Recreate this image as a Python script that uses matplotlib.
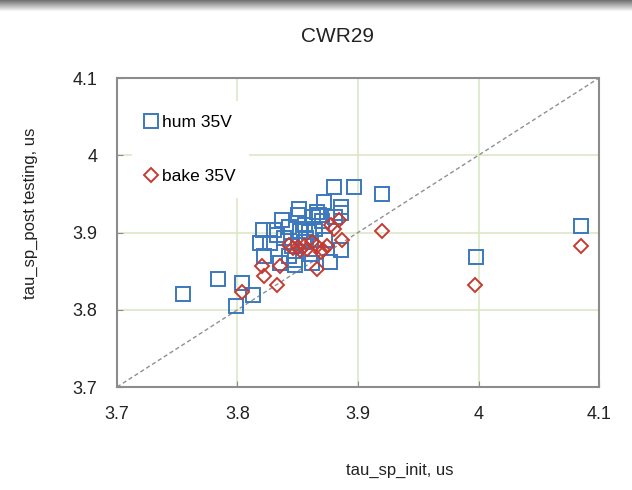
import matplotlib
matplotlib.use("Agg")
import matplotlib.pyplot as plt
import numpy as np

plt.rcParams['font.family'] = ['Liberation Sans', 'DejaVu Sans']

title = "CWR29"
x_label = "tau_sp_init, us"
y_label = "tau_sp_post testing, us"
ticks = [3.7, 3.8, 3.9, 4.0, 4.1]
tick_labels = ["3.7", "3.8", "3.9", "4", "4.1"]

hum_init = [3.755, 3.784, 3.804, 3.799, 3.813, 3.819, 3.827, 3.821, 3.830, 3.837,
            3.843, 3.851, 3.850, 3.856, 3.859, 3.857, 3.839, 3.866, 3.868, 3.863,
            3.872, 3.880, 3.897, 3.886, 3.886, 3.920, 3.873, 3.886, 3.822, 3.835,
            3.848, 3.848, 3.862, 3.877, 3.845, 3.998, 4.085, 3.881, 3.852, 3.864,
            3.833, 3.855, 3.870, 3.843, 3.860]
hum_post = [3.821, 3.840, 3.835, 3.805, 3.819, 3.886, 3.886, 3.903, 3.903, 3.916,
            3.907, 3.931, 3.923, 3.910, 3.901, 3.893, 3.893, 3.927, 3.923, 3.920,
            3.940, 3.959, 3.959, 3.925, 3.933, 3.950, 3.890, 3.877, 3.869, 3.860,
            3.864, 3.858, 3.860, 3.862, 3.882, 3.868, 3.908, 3.920, 3.902, 3.905,
            3.897, 3.888, 3.915, 3.870, 3.872]

bake_init = [3.804, 3.820, 3.822, 3.835, 3.833, 3.866, 3.843, 3.846, 3.852, 3.855,
             3.862, 3.866, 3.871, 3.874, 3.880, 3.884, 3.887, 3.920, 3.997, 4.085,
             3.850, 3.858, 3.878, 3.869]
bake_post = [3.823, 3.856, 3.844, 3.856, 3.832, 3.853, 3.884, 3.880, 3.877, 3.883,
             3.888, 3.882, 3.877, 3.882, 3.904, 3.916, 3.890, 3.902, 3.832, 3.882,
             3.881, 3.879, 3.910, 3.875]

blue = '#3b78be'
red = '#c63a32'

fig = plt.figure(figsize=(6.32, 4.90), dpi=100)
W, H = 632, 490
ax = fig.add_axes([117 / W, 1 - 387 / H, (599 - 117) / W, (387 - 78) / H])

# top shadow band
sh = fig.add_axes([0, 1 - 12 / H, 1, 12 / H])
grad = np.linspace(0.45, 1.0, 12).reshape(-1, 1)
sh.imshow(grad, aspect='auto', cmap='gray', vmin=0, vmax=1, extent=[0, 1, 0, 1])
sh.axis('off')

ax.set_xlim(3.7, 4.1)
ax.set_ylim(3.7, 4.1)
ax.set_xticks(ticks)
ax.set_xticklabels(tick_labels)
ax.set_yticks(ticks)
ax.set_yticklabels(tick_labels)
ax.grid(True, color='#dce7c6', linewidth=1.2)
ax.set_axisbelow(True)
for s in ax.spines.values():
    s.set_color('#8c8c8c')
    s.set_linewidth(1.5)
ax.tick_params(direction='in', length=4, color='#8c8c8c', labelsize=13, pad=14,
               labelcolor='#222222')

ax.plot([3.7, 4.1], [3.7, 4.1], linestyle=(0, (3, 2)), color='#909090', linewidth=1.0, zorder=1)

ax.plot(hum_init, hum_post, linestyle='none', marker='s', markersize=9.5,
        markerfacecolor='none', markeredgecolor=blue, markeredgewidth=1.4,
        label='hum 35V', zorder=3)
ax.plot(bake_init, bake_post, linestyle='none', marker='D', markersize=6.8,
        markerfacecolor='none', markeredgecolor=red, markeredgewidth=1.4,
        label='bake 35V', zorder=4)

leg = ax.legend(loc='upper left', bbox_to_anchor=(15 / 482, 1 - 23 / 309), borderaxespad=0,
                frameon=True, facecolor='white', edgecolor='none', framealpha=1,
                fontsize=12.5, handlelength=0.6, handletextpad=0.3, labelspacing=2.25,
                borderpad=0.8, markerscale=1.0)
leg.set_zorder(5)

ax.set_xlabel(x_label, fontsize=12, color='#222222')
ax.xaxis.set_label_coords((400 - 117) / 482, (387 - 463) / 309)
ax.set_ylabel(y_label, fontsize=12, color='#222222')
ax.yaxis.set_label_coords((38 - 117) / 482, (387 - 213) / 309)

fig.text(338 / W, 1 - 37 / H, title, ha='center', va='center', fontsize=15, color='#222222')

fig.savefig('out.png', dpi=100)
